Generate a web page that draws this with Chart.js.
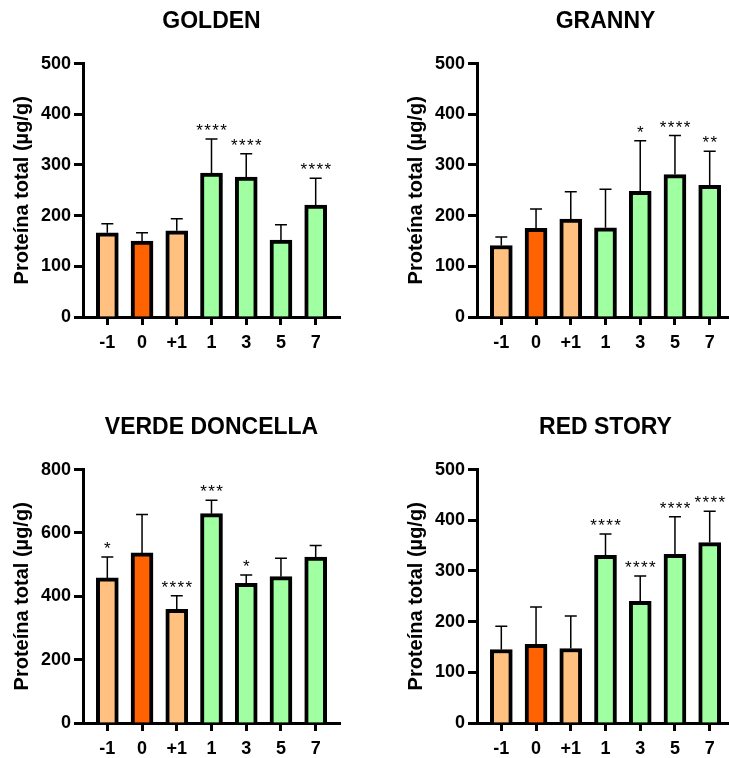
<!DOCTYPE html>
<html>
<head>
<meta charset="utf-8">
<script src="https://cdn.jsdelivr.net/npm/chart.js@4"></script>
<style>
  body { margin: 0; width: 729px; height: 758px; overflow: hidden; background: #fff; position: relative; }
  .panel { position: absolute; }
</style>
</head>
<body>
<div class="panel" style="left:0;top:0;width:365px;height:406px"><canvas id="c1"></canvas></div>
<div class="panel" style="left:394px;top:0;width:365px;height:406px"><canvas id="c2"></canvas></div>
<div class="panel" style="left:0;top:406px;width:365px;height:352px"><canvas id="c3"></canvas></div>
<div class="panel" style="left:394px;top:406px;width:365px;height:352px"><canvas id="c4"></canvas></div>
<script>
var days = ['-1', '0', '+1', '1', '3', '5', '7'];
var barColors = ['#FFC080', '#FF6200', '#FFC080', '#A0FFA0', '#A0FFA0', '#A0FFA0', '#A0FFA0'];

var goldenMean = [166, 150, 170, 284, 276, 152, 221];
var goldenErr  = [184, 166, 194, 351, 322, 182, 274];
var goldenStars = ['', '', '', '****', '****', '', '****'];

var grannyMean = [141, 175, 193, 176, 248, 281, 260];
var grannyErr  = [158, 213, 247, 252, 348, 358, 327];
var grannyStars = ['', '', '', '', '*', '****', '**'];

var verdeMean = [458, 537, 359, 661, 441, 462, 524];
var verdeErr  = [524, 658, 402, 703, 467, 520, 560];
var verdeStars = ['*', '', '****', '***', '*', '', ''];

var redMean = [145, 155, 147, 331, 240, 333, 356];
var redErr  = [191, 229, 211, 373, 290, 407, 418];
var redStars = ['', '', '', '****', '****', '****', '****'];

const font = 'Arial, "Liberation Sans", sans-serif';

// upper error bar + significance stars above each bar
const errorBars = {
  id: 'errorBars',
  afterDatasetsDraw(chart) {
    const ctx = chart.ctx;
    const x = chart.scales.x, y = chart.scales.y;
    const opts = chart.options.plugins.errorBars;
    ctx.save();
    ctx.strokeStyle = '#000';
    ctx.fillStyle = '#000';
    ctx.lineWidth = 1.5;
    opts.mean.forEach((m, i) => {
      const px = x.getPixelForValue(i);
      const y0 = y.getPixelForValue(m);
      const y1 = y.getPixelForValue(opts.err[i]);
      ctx.beginPath();
      ctx.moveTo(px, y0);
      ctx.lineTo(px, y1);
      ctx.moveTo(px - 6, y1);
      ctx.lineTo(px + 6, y1);
      ctx.stroke();
      const s = opts.stars[i];
      if (s) {
        ctx.font = '17px ' + font;
        ctx.textAlign = 'center';
        ctx.textBaseline = 'alphabetic';
        const start = px - (s.length - 1) * 4;
        for (let k = 0; k < s.length; k++) {
          ctx.fillText('*', start + k * 8, y1 - 3);
        }
      }
    });
    ctx.restore();
  }
};

function drawPanel(id, title, mean, err, stars, yMax, yStep) {
  const canvas = document.getElementById(id);
  const h = canvas.parentNode.clientHeight;
  return new Chart(canvas, {
    type: 'bar',
    data: {
      datasets: [{
        data: mean.map((v, i) => ({ x: i, y: v })),
        backgroundColor: barColors,
        borderColor: '#000',
        borderWidth: 4,
        borderSkipped: 'start',
        barThickness: 22
      }]
    },
    options: {
      responsive: true,
      maintainAspectRatio: false,
      animation: false,
      layout: { padding: { left: 10, right: 25, top: 0, bottom: 0 } },
      plugins: {
        legend: { display: false },
        tooltip: { enabled: false },
        title: {
          display: true,
          text: title,
          fullSize: false,
          color: '#000',
          font: { family: font, size: 23, weight: 'bold' },
          padding: { top: 8, bottom: 28 }
        },
        errorBars: { mean: mean, err: err, stars: stars }
      },
      scales: {
        x: {
          type: 'linear',
          offset: false,
          min: -0.7,
          max: 6.7,
          afterBuildTicks: (s) => { s.ticks = days.map((d, i) => ({ value: i })); },
          afterFit: (s) => { s.height = h - 317; },
          grid: { offset: false, drawOnChartArea: false, drawTicks: true, tickLength: 8, tickWidth: 3, color: '#000' },
          border: { display: true, width: 3, color: '#000' },
          ticks: {
            color: '#000',
            padding: 7,
            maxRotation: 0,
            autoSkip: false,
            font: { family: font, size: 18, weight: 'bold' },
            callback: (v) => days[v]
          }
        },
        y: {
          min: 0,
          max: yMax,
          afterFit: (s) => { s.width = 73; },
          grid: { drawOnChartArea: false, drawTicks: true, tickLength: 9, tickWidth: 3, color: '#000' },
          border: { display: true, width: 3, color: '#000' },
          ticks: {
            stepSize: yStep,
            color: '#000',
            padding: 3,
            font: { family: font, size: 18, weight: 'bold' }
          },
          title: {
            display: true,
            text: 'Proteína total (µg/g)',
            color: '#000',
            padding: { top: 0, bottom: 0 },
            font: { family: font, size: 20, weight: 'bold' }
          }
        }
      }
    },
    plugins: [errorBars]
  });
}

drawPanel('c1', 'GOLDEN', goldenMean, goldenErr, goldenStars, 500, 100);
drawPanel('c2', 'GRANNY', grannyMean, grannyErr, grannyStars, 500, 100);
drawPanel('c3', 'VERDE DONCELLA', verdeMean, verdeErr, verdeStars, 800, 200);
drawPanel('c4', 'RED STORY', redMean, redErr, redStars, 500, 100);
</script>
</body>
</html>
